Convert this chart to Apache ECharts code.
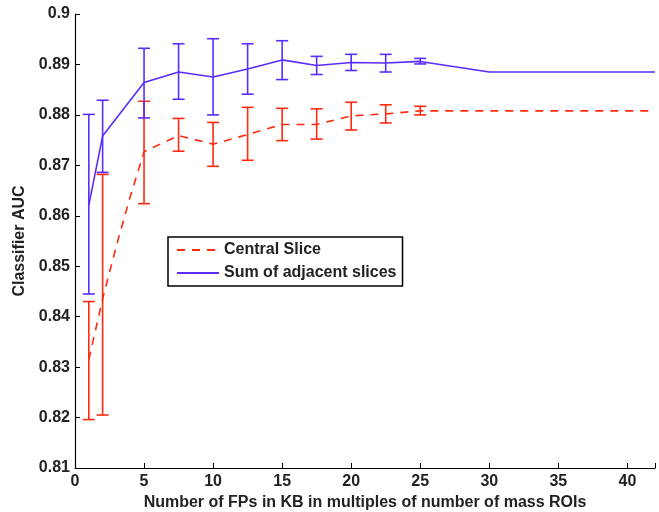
<!DOCTYPE html>
<html>
<head>
<meta charset="utf-8">
<script src="https://cdn.jsdelivr.net/npm/echarts@6/dist/echarts.min.js"></script>
<style>
  html, body { margin: 0; padding: 0; background: #fff; }
  #main { width: 659px; height: 512px; }
</style>
</head>
<body>
<div id="main"></div>
<script>
// x positions (multiples of number of mass ROIs)
var sumX = [1, 2, 5, 7.5, 10, 12.5, 15, 17.5, 20, 22.5, 25, 30, 42];
var sumMean = [0.8621, 0.8758, 0.8864, 0.8885, 0.8875, 0.8891, 0.8909, 0.8898, 0.8904, 0.8903, 0.8906, 0.8885, 0.8885];
var sumLow = [0.8445, 0.8686, 0.8794, 0.8831, 0.8800, 0.8841, 0.8870, 0.8880, 0.8888, 0.8885, 0.8901];
var sumHigh = [0.8801, 0.8829, 0.8932, 0.8941, 0.8951, 0.8941, 0.8947, 0.8916, 0.8920, 0.8920, 0.8912];

var centralX = [1, 2, 3, 4, 5, 7.5, 10, 12.5, 15, 17.5, 20, 22.5, 25, 30, 42];
var centralMean = [0.8315, 0.8435, 0.8541, 0.8638, 0.8727, 0.8759, 0.8742, 0.8761, 0.8781, 0.8781, 0.8798, 0.8802, 0.8808, 0.8808, 0.8808];
var errX = [1, 2, 5, 7.5, 10, 12.5, 15, 17.5, 20, 22.5, 25];
var centralLow = [0.8196, 0.8205, 0.8624, 0.8728, 0.8698, 0.8710, 0.8749, 0.8752, 0.8770, 0.8784, 0.8800];
var centralHigh = [0.8430, 0.8682, 0.8827, 0.8793, 0.8785, 0.8815, 0.8813, 0.8812, 0.8825, 0.8820, 0.8817];

var xTicks = [0, 5, 10, 15, 20, 25, 30, 35, 40];
var yTicks = [0.81, 0.82, 0.83, 0.84, 0.85, 0.86, 0.87, 0.88, 0.89, 0.9];

var RED = '#ff2a10';
var BLUE = '#5a2cff';
var FONT = 'Liberation Sans';

function pairs(xs, ys) {
    return xs.map(function(x, i) { return [x, ys[i]]; });
}

function errData(xs, lo, hi) {
    return xs.map(function(x, i) { return [x, lo[i], hi[i]]; });
}

// error bar with caps
function errRender(color) {
    return function(params, api) {
        var top = api.coord([api.value(0), api.value(2)]);
        var bot = api.coord([api.value(0), api.value(1)]);
        var w = 6;
        var st = { stroke: color, lineWidth: 1.6 };
        return {
            type: 'group',
            children: [
                { type: 'line', shape: { x1: top[0], y1: top[1], x2: bot[0], y2: bot[1] }, style: st },
                { type: 'line', shape: { x1: top[0] - w, y1: top[1], x2: top[0] + w, y2: top[1] }, style: st },
                { type: 'line', shape: { x1: bot[0] - w, y1: bot[1], x2: bot[0] + w, y2: bot[1] }, style: st }
            ]
        };
    };
}

var myChart = echarts.init(document.getElementById('main'));
var option = {
    animation: false,
    backgroundColor: '#fff',
    grid: { left: 75, right: 4, top: 14, bottom: 44, outerBoundsMode: 'none' },
    legend: {
        orient: 'vertical',
        left: 168,
        top: 237,
        padding: [5, 6, 5, 8],
        itemWidth: 42,
        itemHeight: 14,
        itemGap: 7,
        borderColor: '#000',
        borderWidth: 1.5,
        itemStyle: { color: 'rgba(0,0,0,0)', borderWidth: 0 },
        textStyle: { fontFamily: FONT, fontWeight: 'bold', fontSize: 16, color: '#222' },
        data: ['Central Slice', 'Sum of adjacent slices']
    },
    xAxis: {
        type: 'value',
        min: 0,
        max: 42,
        interval: 5,
        name: 'Number of FPs in KB in multiples of number of mass ROIs',
        nameLocation: 'middle',
        nameGap: 26,
        nameTextStyle: { fontFamily: FONT, fontWeight: 'bold', fontSize: 16, color: '#222' },
        axisLine: { lineStyle: { color: '#000', width: 1.2 } },
        axisTick: { inside: true, length: 5, lineStyle: { color: '#000' } },
        axisLabel: {
            fontFamily: FONT, fontWeight: 'bold', fontSize: 16, color: '#222', margin: 6,
            formatter: function(v) { return xTicks.indexOf(v) >= 0 ? String(v) : ''; }
        },
        splitLine: { show: false }
    },
    yAxis: {
        type: 'value',
        min: 0.81,
        max: 0.9,
        interval: 0.01,
        name: 'Classifier AUC',
        nameLocation: 'middle',
        nameGap: 44,
        nameTextStyle: { fontFamily: FONT, fontWeight: 'bold', fontSize: 16, color: '#222' },
        axisLine: { show: true, lineStyle: { color: '#000', width: 1.2 } },
        axisTick: { show: true, inside: true, length: 5, lineStyle: { color: '#000' } },
        axisLabel: {
            fontFamily: FONT, fontWeight: 'bold', fontSize: 16, color: '#222', margin: 5,
            formatter: function(v) {
                var r = Math.round(v * 100) / 100;
                return yTicks.indexOf(r) >= 0 ? String(r) : '';
            }
        },
        splitLine: { show: false }
    },
    series: [
        {
            name: 'Central Slice',
            type: 'line',
            data: pairs(centralX, centralMean),
            symbol: 'none',
            color: RED,
            lineStyle: { color: RED, width: 1.6, type: [8, 7] },
            z: 3
        },
        {
            name: 'Sum of adjacent slices',
            type: 'line',
            data: pairs(sumX, sumMean),
            symbol: 'none',
            color: BLUE,
            lineStyle: { color: BLUE, width: 1.6 },
            z: 3
        },
        {
            type: 'custom',
            renderItem: errRender(RED),
            encode: { x: 0, y: [1, 2] },
            data: errData(errX, centralLow, centralHigh),
            z: 4
        },
        {
            type: 'custom',
            renderItem: errRender(BLUE),
            encode: { x: 0, y: [1, 2] },
            data: errData(sumX.slice(0, 11), sumLow, sumHigh),
            z: 4
        }
    ]
};
myChart.setOption(option);
</script>
</body>
</html>
